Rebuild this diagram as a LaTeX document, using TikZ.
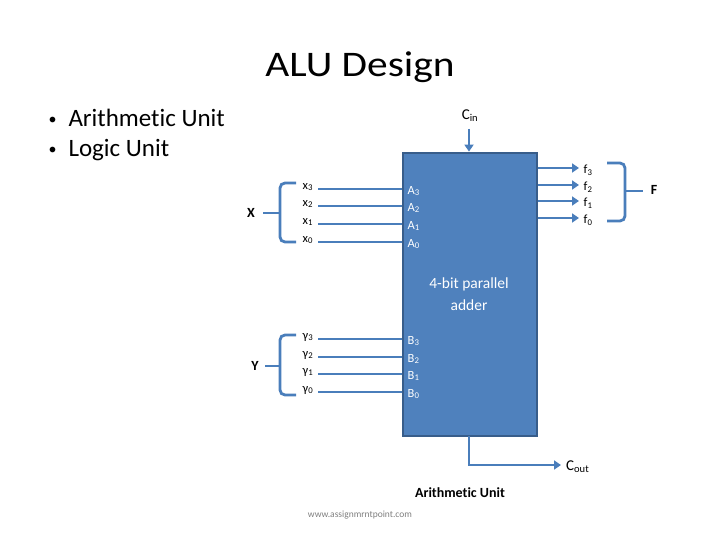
\documentclass[tikz,border=0pt]{standalone}
\usepackage{fontspec}
\setmainfont{Carlito}[Ligatures=NoCommon]
\usetikzlibrary{arrows.meta}
\definecolor{linec}{HTML}{4A7EBB}
\definecolor{boxfill}{HTML}{4F81BD}
\definecolor{boxdraw}{HTML}{385D8A}
\begin{document}
\begin{tikzpicture}[x=1pt,y=-1pt,
 wire/.style={draw=linec,line width=2.8pt},
 arr/.style={wire,-{Triangle[length=7pt,width=9pt]}},
 lbl/.style={font=\fontsize{12.5}{13}\selectfont,inner sep=0.5pt,anchor=west},
 wlbl/.style={lbl,text=white},
 bigl/.style={font=\bfseries\fontsize{14}{15}\selectfont},
 brace/.style={wire,rounded corners=5pt}]
\useasboundingbox[fill=white] (0,0) rectangle (720,540);

\node[xscale=1.15] (title) at (360,67) {\fontsize{36}{38}\selectfont ALU Design};
\node[anchor=west,font=\fontsize{25}{28}\selectfont] (b1) at (45,118) {\raisebox{2pt}{\fontsize{16}{16}\selectfont•}\hspace{12pt}Arithmetic Unit};
\node[anchor=west,font=\fontsize{25}{28}\selectfont] (b2) at (45,150) {\raisebox{2pt}{\fontsize{16}{16}\selectfont•}\hspace{12pt}Logic Unit};

\node[draw=boxdraw,fill=boxfill,line width=2.8pt,minimum width=134pt,minimum height=283pt,inner sep=0pt] (alu) at (470,294.5) {};
\node[text=white,align=center,font=\fontsize{15.5}{22}\selectfont] (addtxt) at (469,294) {4-bit parallel\\adder};

% Cin
\node[font=\fontsize{15}{16}\selectfont,inner sep=1pt] (cin) at (470,116) {C\textsubscript{in}};
\coordinate (cintop) at (469,129);
\draw[arr] (cintop) -- (cintop |- alu.north);

% X inputs
\foreach \i/\y in {3/189,2/206,1/224,0/242}{
  \node[lbl] (x\i) at (302,\y-2) {x\textsubscript{\i}};
  \draw[wire] (318,\y) -- (alu.west |- 0,\y);
  \node[wlbl] (a\i) at (407,\y+2) {A\textsubscript{\i}};
}
\foreach \i/\y in {3/339,2/357,1/374,0/392}{
  \node[lbl] (y\i) at (302,\y-2) {γ\textsubscript{\i}};
  \draw[wire] (318,\y) -- (alu.west |- 0,\y);
  \node[wlbl] (bb\i) at (407,\y+2) {B\textsubscript{\i}};
}
% braces
\node[bigl] (X) at (251,213) {X};
\draw[brace] (296,183) -- (280,183) -- (280,242) -- (296,242);
\draw[wire] (263,213) -- (280,213);
\node[bigl] (Y) at (255,366) {Y};
\draw[brace] (296,335) -- (280,335) -- (280,395) -- (296,395);
\draw[wire] (265,366) -- (280,366);

% outputs
\foreach \i/\y in {3/168,2/185,1/201,0/218}{
  \draw[arr] (alu.east |- 0,\y) -- (579,\y);
  \node[lbl] (f\i) at (583,\y+2) {f\textsubscript{\i}};
}
\draw[brace] (607,163) -- (625,163) -- (625,221) -- (607,221);
\draw[wire] (625,191) -- (643,191);
\node[bigl] (F) at (654,190) {F};

% Cout
\coordinate (cbend) at (469,465);
\draw[arr] (469,436) -- (cbend) -- (561,465);
\node[anchor=west,font=\fontsize{15}{16}\selectfont,inner sep=1pt] (cout) at (565,467) {C\textsubscript{out}};

\node[bigl] (au) at (460,493) {Arithmetic Unit};
\node[text=gray,font=\fontsize{9.5}{10}\selectfont] (www) at (360,515) {www.assignmrntpoint.com};
\end{tikzpicture}
\end{document}
